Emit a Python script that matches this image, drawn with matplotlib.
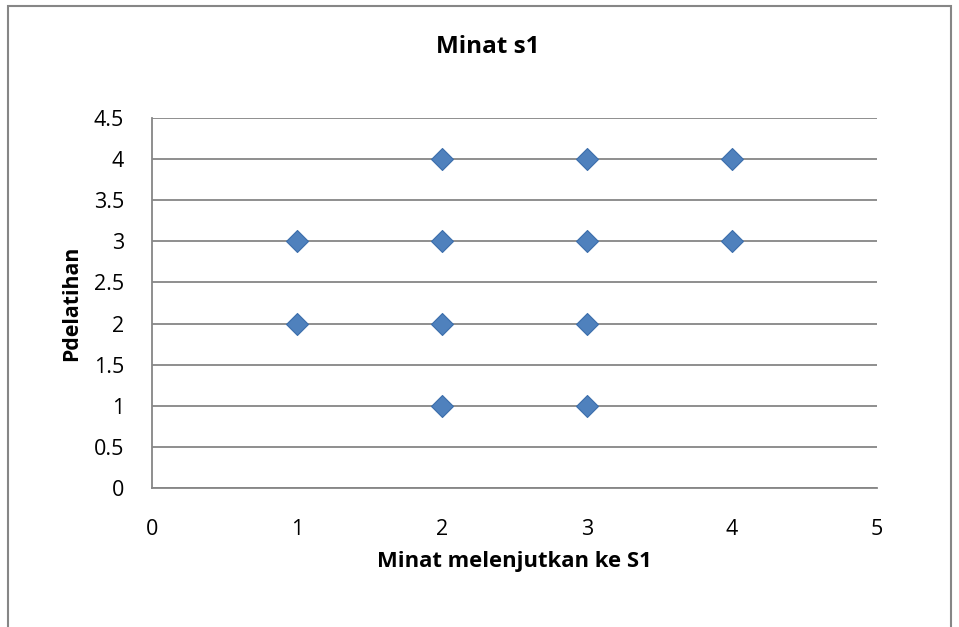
import matplotlib.pyplot as plt
from matplotlib.patches import Rectangle

plt.rcParams['font.family'] = ['Open Sans', 'DejaVu Sans']

minat = [1, 1, 2, 2, 2, 2, 3, 3, 3, 3, 4, 4]
pelatihan = [3, 2, 4, 3, 2, 1, 4, 3, 2, 1, 4, 3]

xticks = [0, 1, 2, 3, 4, 5]
yticks = [0, 0.5, 1, 1.5, 2, 2.5, 3, 3.5, 4, 4.5]

W, H = 959, 627
fig = plt.figure(figsize=(W / 100, H / 100), dpi=100)
ax = fig.add_axes([152 / W, 1 - 488 / H, 725 / W, 370 / H])

# outer chart border
fig.patches.append(Rectangle((8 / W, -0.01), 943 / W, 1 - 6 / H + 0.01,
                             transform=fig.transFigure, fill=False,
                             edgecolor='#868686', lw=1.5))

ax.scatter(minat, pelatihan, marker='D', s=125, color='#4F81BD',
           edgecolor='#3C6EAB', linewidth=0.8, zorder=3, clip_on=False)

ax.set_xlim(0, 5)
ax.set_ylim(0, 4.5)
ax.set_xticks(xticks)
ax.set_yticks(yticks)
ax.set_xticklabels([str(v) for v in xticks])
ax.set_yticklabels(['0', '0.5', '1', '1.5', '2', '2.5', '3', '3.5', '4', '4.5'])
ax.tick_params(length=0, labelsize=15.5)
ax.tick_params(axis='y', pad=20)
ax.tick_params(axis='x', pad=22)
ax.yaxis.grid(True, color='#868686', lw=1.3)
ax.set_axisbelow(True)
for s in ['top', 'right']:
    ax.spines[s].set_visible(False)
for s in ['left', 'bottom']:
    ax.spines[s].set_color('#868686')
    ax.spines[s].set_linewidth(1.3)

fig.text(488 / W, 1 - 47 / H, 'Minat s1', fontsize=17.5, fontweight='bold',
         ha='center', va='center')
fig.text(514 / W, 1 - 561 / H, 'Minat melenjutkan ke S1', fontsize=15.8,
         fontweight='bold', ha='center', va='center')
fig.text(72 / W, 1 - 303 / H, 'Pdelatihan', fontsize=15.3, fontweight='bold',
         ha='center', va='center', rotation=90)

fig.savefig('out.png', dpi=100)
